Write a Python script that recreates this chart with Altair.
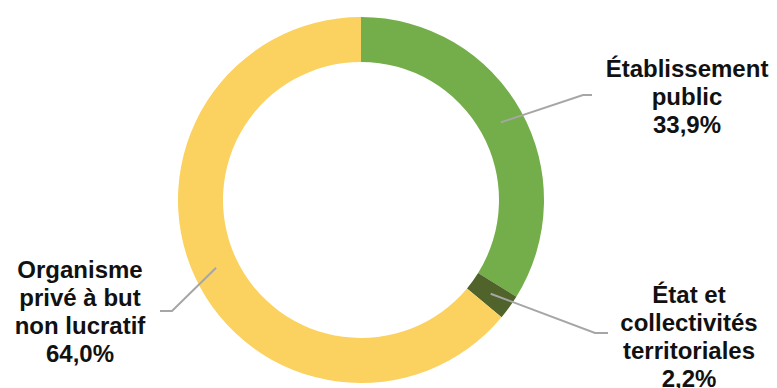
import math
import altair as alt
import pandas as pd

# ---- data ----
categories = ["Établissement public", "État et collectivités territoriales", "Organisme privé à but non lucratif"]
values = [33.9, 2.2, 64.0]
label_texts = ["Établissement\npublic\n33,9%", "État et\ncollectivités\nterritoriales\n2,2%", "Organisme\nprivé à but\nnon lucratif\n64,0%"]

# ---- style / layout ----
colors = ["#74ae4a", "#50632a", "#fbd25f"]
W, H = 761, 380
CX, CY = 353, 192
R_OUT, R_IN = 183, 138
R_LEAD = 160
label_pos = [(679, 69), (681, 295), (72, 270)]
elbows = [(575, 87), (587, 325), (164, 303)]
ends = [(584, 87), (600, 325), (152, 303)]

df = pd.DataFrame({"cat": categories, "val": values, "order": [0, 1, 2]})

arc = alt.Chart(df).mark_arc(outerRadius=R_OUT, innerRadius=R_IN).encode(
    theta=alt.Theta("val:Q", stack=True),
    order=alt.Order("order:Q"),
    color=alt.Color("cat:N", scale=alt.Scale(domain=categories, range=colors), legend=None),
    x=alt.value(CX),
    y=alt.value(CY),
)

# leader lines, starting at mid-angle of each slice
total = sum(values)
rows = []
cum = 0.0
for i, v in enumerate(values):
    mid = (cum + v / 2) / total * 2 * math.pi
    cum += v
    sx = CX + R_LEAD * math.sin(mid)
    sy = CY - R_LEAD * math.cos(mid)
    pts = [(sx, sy), elbows[i], ends[i]]
    for k, (px, py) in enumerate(pts):
        rows.append({"cat": categories[i], "k": k, "x": px, "y": py})
lead_df = pd.DataFrame(rows)

leaders = alt.Chart(lead_df).mark_line(color="#a6a6a6", strokeWidth=2).encode(
    x=alt.X("x:Q", scale=None),
    y=alt.Y("y:Q", scale=None),
    detail="cat:N",
    order="k:Q",
)

lab_df = pd.DataFrame({
    "txt": label_texts,
    "x": [p[0] for p in label_pos],
    "y": [p[1] for p in label_pos],
})

labels = alt.Chart(lab_df).mark_text(
    font="Liberation Sans", fontSize=24, fontWeight="bold", color="#111111",
    align="center", baseline="alphabetic", lineBreak="\n", lineHeight=28,
).encode(
    x=alt.X("x:Q", scale=None),
    y=alt.Y("y:Q", scale=None),
    text="txt:N",
)

chart = alt.layer(arc, leaders, labels).properties(
    width=W, height=H, autosize=alt.AutoSizeParams(type="none"), padding=0,
).configure_view(stroke=None)

chart.save("out.html", embed_options={"renderer": "svg", "actions": False})
